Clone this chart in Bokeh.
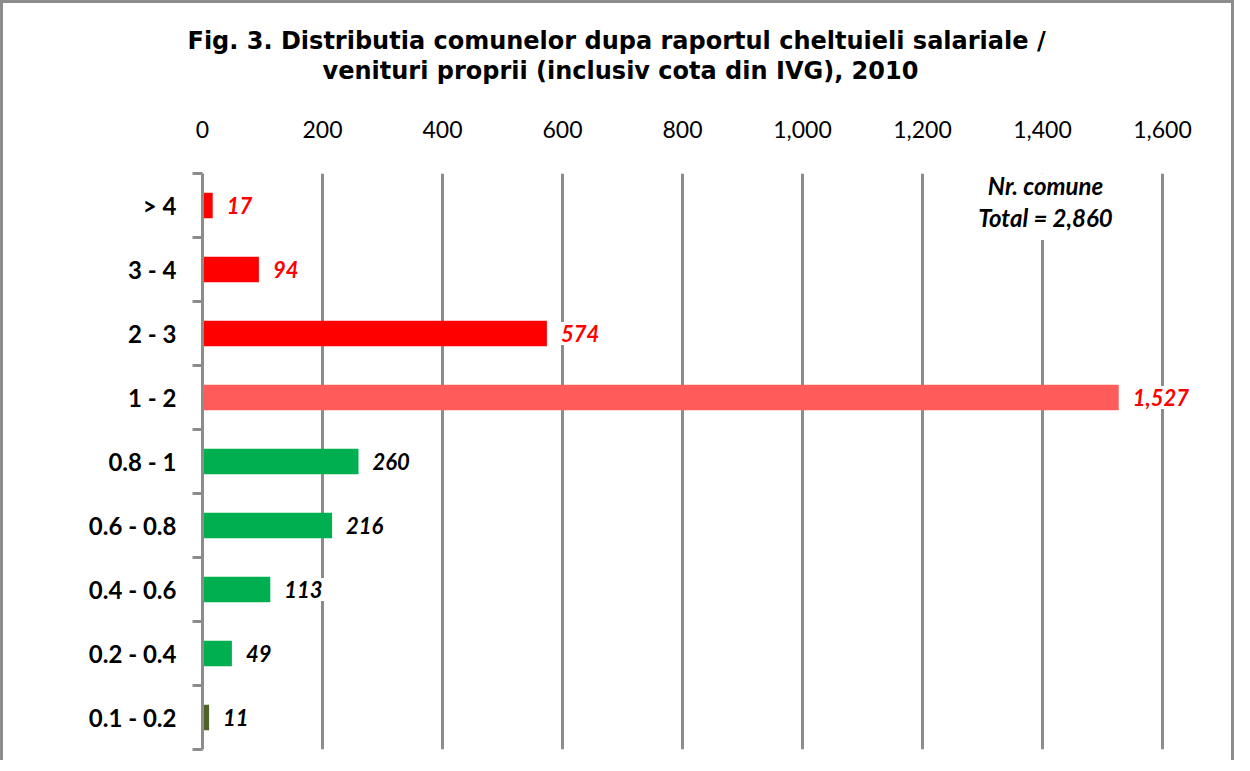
from bokeh.plotting import figure
from bokeh.models import Range1d, FixedTicker, NumeralTickFormatter, ColumnDataSource, Label, Title
from bokeh.core.properties import value
from bokeh.embed import file_html
from bokeh.resources import INLINE

categories = ["> 4", "3 - 4", "2 - 3", "1 - 2", "0.8 - 1", "0.6 - 0.8", "0.4 - 0.6", "0.2 - 0.4", "0.1 - 0.2"]
counts = [17, 94, 574, 1527, 260, 216, 113, 49, 11]
bar_colors = ["#FF0000", "#FF0000", "#FF0000", "#FF5B5B", "#00B050", "#00B050", "#00B050", "#00B050", "#4F6228"]
label_colors = ["#FF0000", "#FF0000", "#FF0000", "#FF0000", "#000000", "#000000", "#000000", "#000000", "#000000"]
x_ticks = [0, 200, 400, 600, 800, 1000, 1200, 1400, 1600]
total_communes = 2860
title_lines = ["Fig. 3. Distributia comunelor dupa raportul cheltuieli salariale /",
               "venituri proprii (inclusiv cota din IVG), 2010"]

GREY = "#8c8c8c"
n = len(categories)
ypos = [n - i - 0.5 for i in range(n)]
src = ColumnDataSource(dict(
    y=ypos, count=counts, color=bar_colors, lcolor=label_colors,
    label=[f"{c:,}" for c in counts],
))

p = figure(width=1234, height=760, x_range=Range1d(0, 1700), y_range=Range1d(0, n),
           x_axis_location="above", output_backend="svg", toolbar_location=None,
           min_border_left=199, min_border_right=15, min_border_bottom=14, min_border_top=170)
p.styles = {"border-top": f"3px solid {GREY}", "border-left": f"3px solid {GREY}",
            "border-right": f"3px solid {GREY}"}
p.outline_line_color = None
p.title.visible = False

# empty spacer between the value axis and the title
p.add_layout(Title(text=" ", standoff=20, text_font_size="10px"), "above")
# title: second line nearest the axis, first line above it
for txt, off in [(title_lines[1], 120), (title_lines[0], -15)]:
    p.add_layout(Title(text=txt, align="left", offset=off, standoff=0,
                       text_font="DejaVu Sans", text_font_style="bold",
                       text_font_size="24px", text_color="black"), "above")

# top value axis
xa = p.xaxis[0]
xa.ticker = FixedTicker(ticks=x_ticks)
xa.formatter = NumeralTickFormatter(format="0,0")
xa.axis_line_color = None
xa.major_tick_line_color = None
xa.minor_tick_line_color = None
xa.major_label_text_font = "Lato"
xa.major_label_text_font_size = "23px"
xa.major_label_text_color = "black"
xa.major_label_standoff = 30

p.xgrid.ticker = FixedTicker(ticks=x_ticks)
p.xgrid.grid_line_color = GREY
p.xgrid.grid_line_width = 3
p.ygrid.visible = False

# left category axis
ya = p.yaxis[0]
ya.ticker = FixedTicker(ticks=ypos, minor_ticks=list(range(n + 1)))
ya.major_label_overrides = {y: c for y, c in zip(ypos, categories)}
ya.axis_line_color = GREY
ya.axis_line_width = 3
ya.major_tick_line_color = None
ya.major_tick_out = 0
ya.major_tick_in = 0
ya.minor_tick_line_color = GREY
ya.minor_tick_line_width = 3
ya.minor_tick_out = 10
ya.minor_tick_in = 0
ya.major_label_text_font = "Lato"
ya.major_label_text_font_style = "bold"
ya.major_label_text_font_size = "24px"
ya.major_label_text_color = "black"
ya.major_label_standoff = 16

p.hbar(y="y", left=0, right="count", height=0.4, fill_color="color", line_color=None, source=src)
p.text(x="count", y="y", text="label", x_offset=11, text_align="left", text_baseline="middle",
       text_font=value("Lato"), text_font_style="bold italic", text_font_size="22px",
       text_color="lcolor", background_fill_color="white", padding=3, source=src)

p.add_layout(Label(x=1405, y=8.56, text=f"Nr. comune\nTotal = {total_communes:,}",
                   text_align="center", text_baseline="middle", text_font="Lato",
                   text_font_style="bold italic", text_font_size="24px", text_color="black",
                   text_line_height=1.1, background_fill_color="white", padding=8))

open("out.html", "w").write(file_html(p, INLINE))
